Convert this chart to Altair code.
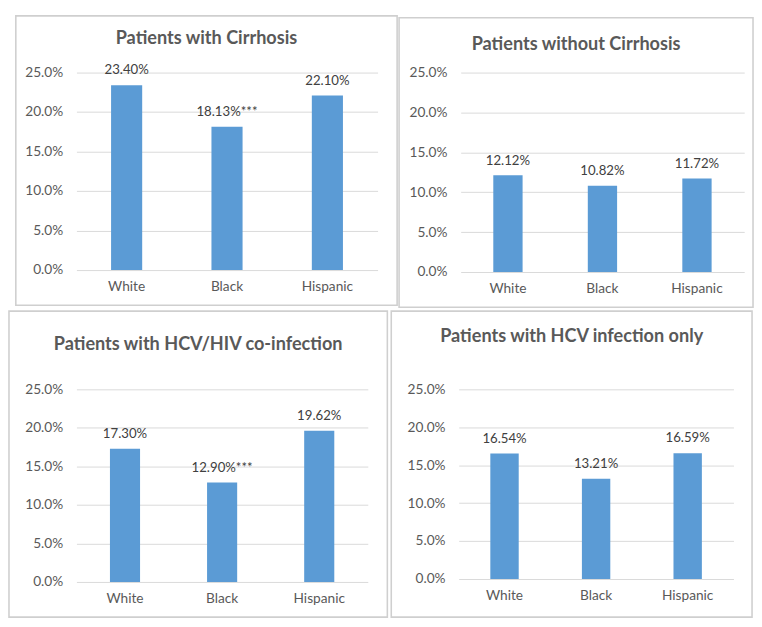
import altair as alt
import pandas as pd

groups = ["White", "Black", "Hispanic"]
titles = [
    "Patients with Cirrhosis",
    "Patients without Cirrhosis",
    "Patients with HCV/HIV co-infection",
    "Patients with HCV infection only",
]
cirrhosis = [23.40, 18.13, 22.10]
no_cirrhosis = [12.12, 10.82, 11.72]
coinfection = [17.30, 12.90, 19.62]
hcv_only = [16.54, 13.21, 16.59]
cirrhosis_sig = ["", "***", ""]
no_cirrhosis_sig = ["", "", ""]
coinfection_sig = ["", "***", ""]
hcv_only_sig = ["", "", ""]
y_ticks = [0, 5, 10, 15, 20, 25]

BAR = "#5b9bd5"
GRID = "#d9d9d9"
TEXT = "#595959"
FONT = "Lato"


def panel(title, values, sig, w, h, left, right, top, bottom, title_y):
    df = pd.DataFrame({
        "group": groups,
        "value": values,
        "label": [f"{v:.2f}%{s}" for v, s in zip(values, sig)],
    })
    base = alt.Chart(df)
    x = alt.X("group:N", sort=groups, title=None,
              scale=alt.Scale(paddingInner=0, paddingOuter=0),
              axis=alt.Axis(labelAngle=0, domain=False, ticks=False, labelPadding=10,
                            labelFontSize=14, labelColor=TEXT, labelFont=FONT))
    y = alt.Y("value:Q", title=None,
              scale=alt.Scale(domain=[0, 25], nice=False),
              axis=alt.Axis(values=y_ticks, labelExpr="format(datum.value, '.1f') + '%'",
                            domain=False, ticks=False, labelPadding=14, gridColor=GRID,
                            labelFontSize=14, labelColor=TEXT, labelFont=FONT))
    bars = base.mark_bar(color=BAR, width=alt.RelativeBandSize(0.31)).encode(x=x, y=y)
    labels = base.mark_text(baseline="bottom", dy=-8, fontSize=13.5, color="#404040",
                            font=FONT).encode(x=x, y=y, text="label:N")
    border = alt.Chart(alt.Data(values=[{}])).mark_rect(
        fillOpacity=0, stroke="#cfcfcf", strokeWidth=1.6
    ).encode(x=alt.value(left), x2=alt.value(w + right),
             y=alt.value(top), y2=alt.value(h + bottom))
    ttl = alt.Chart(alt.Data(values=[{"t": title}])).mark_text(
        font=FONT, fontSize=18.5, fontWeight="bold", color=TEXT, baseline="middle"
    ).encode(x=alt.value((left + w + right) / 2), y=alt.value(title_y), text="t:N")
    return alt.layer(border, bars, labels, ttl).properties(width=w, height=h)


p1 = panel(titles[0], cirrhosis, cirrhosis_sig, 308, 202, -62, 20, -58, 36, -35)
p2 = panel(titles[1], no_cirrhosis, no_cirrhosis_sig, 290, 204, -63, 9, -56, 36, -29)
p3 = panel(titles[2], coinfection, coinfection_sig, 298, 197, -69, 20, -80, 36, -46)
p4 = panel(titles[3], hcv_only, hcv_only_sig, 281, 194, -69, 19, -80, 39, -54)

chart = alt.vconcat(
    alt.hconcat(p1, p2, spacing=0),
    alt.hconcat(p3, p4, spacing=2),
    spacing=2,
).properties(padding=0).configure_view(stroke=None)

chart.save("out.html", embed_options={"renderer": "svg", "actions": False})
